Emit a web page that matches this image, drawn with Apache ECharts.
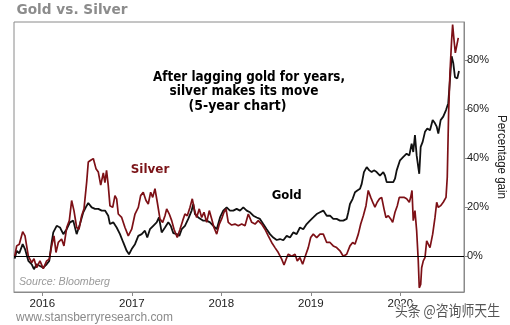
<!DOCTYPE html>
<html><head><meta charset="utf-8">
<script src="https://cdn.jsdelivr.net/npm/echarts@6/dist/echarts.min.js"></script>
<style>html,body{margin:0;padding:0;background:#fff}#c{width:510px;height:325px}</style>
</head><body><div id="c"></div>
<script>
// x values are decimal years, y values are percentage gain
const goldYears = [2015.692,2015.714,2015.743,2015.781,2015.807,2015.844,2015.882,2015.907,2015.937,2015.974,
2016.011,2016.049,2016.078,2016.105,2016.123,2016.161,2016.198,2016.235,2016.273,2016.309,2016.346,2016.384,2016.421,
2016.458,2016.496,2016.514,2016.552,2016.589,2016.626,2016.664,2016.701,2016.737,2016.756,2016.793,2016.831,2016.868,
2016.905,2016.943,2016.969,2016.999,2017.036,2017.073,2017.111,2017.147,2017.173,2017.203,2017.240,2017.278,2017.304,
2017.334,2017.371,2017.408,2017.435,2017.464,2017.502,2017.531,2017.558,2017.594,2017.631,2017.669,2017.687,2017.706,
2017.725,2017.743,2017.762,2017.799,2017.837,2017.874,2017.911,2017.949,2017.986,2018.022,2018.060,2018.097,2018.134,
2018.172,2018.209,2018.246,2018.284,2018.321,2018.358,2018.396,2018.432,2018.469,2018.507,2018.544,2018.581,2018.619,
2018.656,2018.693,2018.731,2018.768,2018.804,2018.842,2018.879,2018.916,2018.954,2018.991,2019.028,2019.066,2019.103,
2019.140,2019.178,2019.215,2019.251,2019.289,2019.326,2019.363,2019.401,2019.419,2019.438,2019.468,2019.494,2019.520,
2019.550,2019.569,2019.594,2019.625,2019.654,2019.680,2019.706,2019.736,2019.773,2019.810,2019.829,2019.848,2019.885,
2019.922,2019.941,2019.960,2019.997,2020.034,2020.071,2020.101,2020.127,2020.145,2020.164,2020.183,2020.201,2020.212,
2020.228,2020.250,2020.276,2020.302,2020.332,2020.362,2020.388,2020.407,2020.425,2020.451,2020.480,2020.511,2020.536,
2020.555,2020.574,2020.592,2020.611,2020.637,2020.656];
const goldPct = [-1,2.2,1.2,4.9,2.9,-1.9,-3.3,-5.3,-3.3,-4,
-4.7,-3.3,-1.9,5.6,9.7,12.4,11.7,9,11,13.8,14.5,9,13.1,
17.9,20.6,21.7,19.9,19.3,19.3,18.6,18.6,16.5,13.1,13.8,11.7,9,
5.6,2.2,0.8,2.9,4.9,8.3,9,10.4,7.6,11,12.4,13.8,15.8,
9.7,11.7,13.8,12.4,9.4,9,8.3,11,12.4,15.2,18.6,21.3,17.2,
16.5,15.8,15.8,14.5,14.5,13.8,12.4,11,15.8,18.6,19.9,18.6,18.6,
19.3,18.6,19.9,18.6,17.9,16.5,15.8,15.2,13.1,11,9,7.6,6.6,
7,6.5,8.3,7.6,9.7,9,11.7,11,13.1,14.5,15.8,17.2,17.9,
18.6,16.5,16.5,15.2,15.2,14.5,14.5,15.2,17.9,21.3,23.4,26.1,26.8,
27.5,29.5,34.3,36.3,35,34.3,35,34.3,32.9,34.3,32.9,30.2,30.2,
30.2,31.6,35,39.1,40.5,41.8,41.1,45.9,42.5,49.4,41.1,36.3,33.6,
44.6,46.6,50.7,52.1,51.4,55.5,54.2,52.8,50,55.5,56.9,59.6,62.4,
71.9,81.5,78.8,73,72.5,75.5];

const silverYears = [2015.692,2015.714,2015.743,2015.781,2015.807,2015.844,2015.882,2015.907,2015.937,2015.974,
2016.011,2016.049,2016.078,2016.105,2016.131,2016.153,2016.179,2016.216,2016.242,2016.273,2016.302,2016.328,2016.354,
2016.384,2016.410,2016.440,2016.466,2016.496,2016.514,2016.541,2016.570,2016.600,2016.626,2016.653,2016.682,2016.700,
2016.718,2016.737,2016.756,2016.787,2016.812,2016.831,2016.849,2016.887,2016.924,2016.961,2016.999,2017.036,2017.073,
2017.099,2017.128,2017.159,2017.184,2017.211,2017.234,2017.259,2017.285,2017.315,2017.345,2017.371,2017.390,2017.419,
2017.446,2017.472,2017.508,2017.539,2017.569,2017.594,2017.620,2017.650,2017.676,2017.706,2017.725,2017.754,2017.781,
2017.807,2017.837,2017.866,2017.893,2017.918,2017.949,2017.978,2018.004,2018.030,2018.053,2018.078,2018.116,2018.153,
2018.190,2018.228,2018.265,2018.302,2018.340,2018.377,2018.413,2018.451,2018.488,2018.525,2018.563,2018.600,2018.637,
2018.675,2018.701,2018.731,2018.749,2018.787,2018.824,2018.849,2018.879,2018.909,2018.946,2018.972,2018.999,2019.028,
2019.066,2019.103,2019.140,2019.178,2019.215,2019.251,2019.289,2019.326,2019.363,2019.382,2019.401,2019.438,2019.468,
2019.494,2019.531,2019.558,2019.587,2019.617,2019.642,2019.670,2019.698,2019.717,2019.742,2019.768,2019.792,2019.818,
2019.840,2019.866,2019.893,2019.915,2019.941,2019.967,2019.989,2020.016,2020.041,2020.071,2020.101,2020.116,2020.131,
2020.145,2020.164,2020.183,2020.201,2020.212,2020.228,2020.239,2020.257,2020.276,2020.295,2020.313,2020.332,2020.362,
2020.388,2020.407,2020.425,2020.451,2020.480,2020.511,2020.525,2020.540,2020.555,2020.574,2020.585,2020.600,2020.615,
2020.630,2020.648];
const silverPct = [0,4.2,4.9,10,8.3,0,-2.6,-1,-4.7,-1.9,
-5.1,-1.9,-1.2,4.2,8.3,1.5,5.6,7,4.2,11.7,14.5,22.7,18.6,
11.7,11,16.5,19.3,30.2,38.4,39.1,39.8,35.7,34.3,29,34,30,
35,29,20.6,19.9,24.7,23.4,17.2,15.8,11.7,8.3,11,17.2,19.9,
24.7,26.1,22.7,21.3,26.1,24,27.5,22,15.2,13.8,16.5,19.3,17.2,
14.5,11,7.6,11,14.5,17.2,16.5,19.9,23.4,18,15.8,19.3,15.8,
17.9,13.8,18.6,15.2,11.7,9,13.1,15.2,17.9,19.3,13.8,12.7,13.1,
12.4,13.1,12.4,17.2,13.8,13.1,14.5,13.1,11,8.3,5.6,3.5,1.5,
-1.2,-3.6,-0.6,0.8,0,0.8,-1.9,-0.6,-3.3,0.8,3.5,7.6,9,
7.6,9,9,5.6,5.6,4.2,3.5,2.2,0,-0.6,0.8,4.2,5.6,
4.9,9,13.1,16.5,20.6,26.8,24,21.5,20,22,23.4,24,19.3,
15.8,16.5,15.2,13.8,17.9,20.6,24,24,24,23.4,22,24,26.8,
14.5,18.6,10.4,-1.9,-12.9,-11.5,-4.7,-1.9,-0.6,6.3,4.9,3.5,9,
15.8,22,19.9,20.6,22,24,32.2,58.3,74.7,88.3,94.5,88.3,82.9,
83.5,89];

const yearTicks = [2016, 2017, 2018, 2019, 2020];
const pctTicks = [0, 20, 40, 60, 80];

const zip = (xs, ys) => xs.map((x, i) => [x, ys[i]]);

const mctx = document.createElement('canvas').getContext('2d');
function fit(text, font, w) { mctx.font = font; return w / mctx.measureText(text).width; }

function txt(text, x, y, font, fill, align, targetW, extra) {
  return {
    type: 'text', x: x, y: y, silent: true, z: 100,
    scaleX: targetW ? fit(text, font, targetW) : 1,
    style: Object.assign({ text: text, font: font, fill: fill, textAlign: align || 'left', textVerticalAlign: 'middle' }, extra || {})
  };
}

const annFont = 'bold 14px "DejaVu Sans"';
const chart = echarts.init(document.getElementById('c'), null, { renderer: 'canvas' });
chart.setOption({
  animation: false,
  backgroundColor: '#fff',
  grid: { left: 14, right: 46, top: 22, bottom: 33, show: true, borderColor: '#8a8a8a', borderWidth: 1, backgroundColor: 'transparent' },
  xAxis: {
    type: 'value', min: 2015.684, max: 2020.712,
    axisLine: { show: true, onZero: false, lineStyle: { color: '#8a8a8a', width: 1 } },
    axisTick: { show: true, customValues: yearTicks, length: 4, lineStyle: { color: '#8a8a8a' } },
    axisLabel: { customValues: yearTicks, formatter: v => String(Math.round(v)), color: '#1a1a1a', fontSize: 11.5, fontFamily: 'Liberation Sans', margin: 6 },
    splitLine: { show: false }
  },
  yAxis: {
    type: 'value', position: 'right', min: -14.6, max: 95.5,
    axisLine: { show: true, lineStyle: { color: '#8a8a8a', width: 1 } },
    axisTick: { show: true, customValues: pctTicks, length: 4, lineStyle: { color: '#8a8a8a' } },
    axisLabel: { customValues: pctTicks, formatter: v => Math.round(v) + '%', color: '#1a1a1a', fontSize: 11, fontFamily: 'Liberation Sans', margin: 3 },
    splitLine: { show: false }
  },
  series: [
    {
      name: 'Gold', type: 'line', data: zip(goldYears, goldPct), showSymbol: false,
      lineStyle: { color: '#111', width: 1.8 }, itemStyle: { color: '#111' }, z: 3,
      markLine: { silent: true, symbol: 'none', label: { show: false },
        lineStyle: { color: '#000', width: 1.2, type: 'solid' }, data: [{ yAxis: 0 }] }
    },
    {
      name: 'Silver', type: 'line', data: zip(silverYears, silverPct), showSymbol: false,
      lineStyle: { color: '#7d1016', width: 1.7 }, itemStyle: { color: '#7d1016' }, z: 4
    }
  ],
  graphic: [
    txt('Gold vs. Silver', 16.5, 10.5, 'bold 14px "DejaVu Sans"', '#8c8c8c', 'left', 111),
    txt('After lagging gold for years,', 249, 77, annFont, '#000', 'center', 192),
    txt('silver makes its move', 244, 91.5, annFont, '#000', 'center', 149),
    txt('(5-year chart)', 237.5, 106.5, annFont, '#000', 'center', 98),
    txt('Silver', 150, 170, 'bold 13px "DejaVu Sans"', '#7b1418', 'center', 38.6),
    txt('Gold', 286.7, 195.7, 'bold 13px "DejaVu Sans"', '#000', 'center', 30),
    txt('Source: Bloomberg', 19, 281.5, 'italic 11px "Liberation Sans"', '#9a9a9a', 'left', 91),
    txt('www.stansberryresearch.com', 16, 317, '13px "Liberation Sans"', '#8a8a8a', 'left', 157),
    Object.assign(txt('Percentage gain', 501.5, 157, '12px "Liberation Sans"', '#222', 'center', 84), { rotation: -Math.PI / 2 }),
    txt('头条 @咨询师天生', 395, 310.5, '15px "Noto Sans CJK SC"', '#555', 'left', 105, { stroke: '#fff', lineWidth: 2 })
  ]
});
</script>
</body></html>
